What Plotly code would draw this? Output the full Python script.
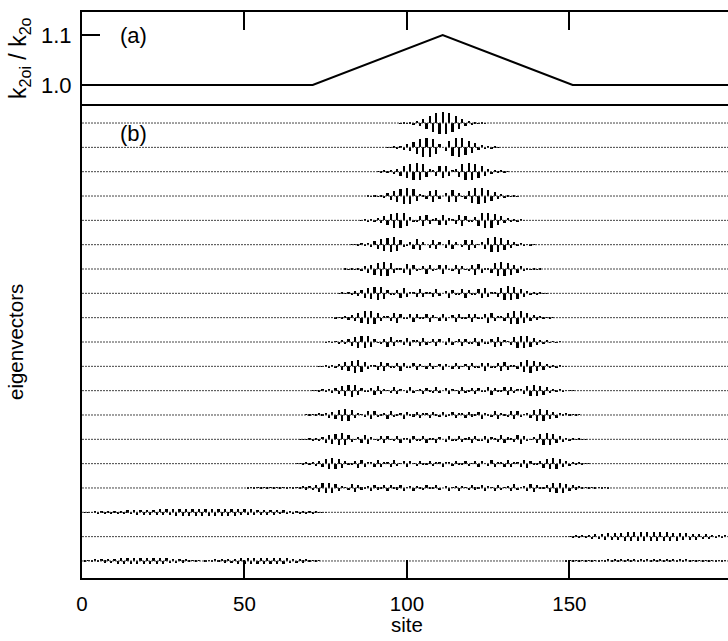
import plotly.graph_objects as go

# ---------------- panel (a): relative spring constant along the chain ----------------
k_site = [0, 71, 111, 151, 200]
k_ratio = [1.0, 1.0, 1.1, 1.0, 1.0]

# ---------------- panel (b): eigenvector components (bar heights, read in pixels) ----
ev01_start = 98
ev01 = [-0.3, 0.4, -0.7, 1.0, -1.6, 2.2, -3.2, 4.3, -5.7, 7.1, -8.6, 9.9, -10.7, 10.9,
        -10.7, 9.9, -8.6, 7.1, -5.7, 4.3, -3.2, 2.2, -1.6, 1.0, -0.7, 0.4, -0.3]

ev02_start = 94
ev02 = [0.3, -0.4, 0.7, -1.0, 1.5, -2.2, 3.1, -4.1, 5.4, -6.8, 8.1, -9.2, 9.8, -9.8, 8.6, -6.5, 3.5,
        0,
        -3.5, 6.5, -8.6, 9.8, -9.8, 9.2, -8.1, 6.8, -5.4, 4.1, -3.1, 2.2, -1.5, 1.0, -0.7, 0.4, -0.3]

ev03_start = 91
ev03 = [0.3, -0.5, 0.7, -1.1, 1.5, -2.2, 3.0, -4.1, 5.2, -6.4, 7.6, -8.4, 8.9, -8.5, 7.2, -5.0, 2.2,
        0.9, -3.9, 6.0, -6.7, 6.0, -3.9, 0.9, 2.2, -5.0, 7.2, -8.5, 8.9, -8.4, 7.6, -6.4, 5.2, -4.1,
        3.0, -2.2, 1.5, -1.1, 0.7, -0.5, 0.3]

ev04_start = 88
ev04 = [0.3, -0.4, 0.6, -0.9, 1.4, -2.0, 2.7, -3.7, 4.8, -5.9, 7.1, -7.9, 8.4, -8.2, 7.0, -5.1,
        2.5, 0.5, -3.3, 5.5, -6.3, 5.6, -3.2,
        0,
        3.2, -5.6, 6.3, -5.5, 3.3, -0.5, -2.5, 5.1, -7.0, 8.2, -8.4, 7.9, -7.1, 5.9, -4.8, 3.7,
        -2.7, 2.0, -1.4, 0.9, -0.6, 0.4, -0.3]

ev05_start = 86
ev05 = [-0.3, 0.5, -0.7, 1.1, -1.6, 2.3, -3.1, 4.1, -5.1, 6.3, -7.2, 7.8, -7.9, 7.1, -5.6, 3.4,
        -0.7, -2.1, 4.5, -5.9, 5.8, -4.1, 1.3, 1.9, -4.5,
        5.4, -4.5, 1.9, 1.3, -4.1, 5.8, -5.9, 4.5, -2.1, -0.7, 3.4, -5.6, 7.1, -7.9, 7.8, -7.2,
        6.3, -5.1, 4.1, -3.1, 2.3, -1.6, 1.1, -0.7, 0.5, -0.3]

ev06_start = 83
ev06 = [-0.2, 0.4, -0.6, 0.8, -1.2, 1.8, -2.4, 3.3, -4.2, 5.2, -6.2, 7.0, -7.4, 7.2, -6.2, 4.5,
        -2.2, -0.4, 3.0, -4.8, 5.6, -4.9, 2.8, 0.0, -2.9, 4.7, -4.8, 3.0,
        0,
        -3.0, 4.8, -4.7, 2.9, 0.0, -2.8, 4.9, -5.6, 4.8, -3.0, 0.4, 2.2, -4.5, 6.2, -7.2, 7.4,
        -7.0, 6.2, -5.2, 4.2, -3.3, 2.4, -1.8, 1.2, -0.8, 0.6, -0.4, 0.2]

ev07_start = 81
ev07 = [0.3, -0.4, 0.6, -0.9, 1.4, -1.9, 2.7, -3.5, 4.5, -5.5, 6.5, -7.1, 7.4, -7.0, 5.7, -3.9,
        1.4, 1.2, -3.6, 5.2, -5.5, 4.4, -2.1, -0.9, 3.5, -4.9, 4.4, -2.2, -0.9, 3.6,
        -4.6, 3.6, -0.9, -2.2, 4.4, -4.9, 3.5, -0.9, -2.1, 4.4, -5.5, 5.2, -3.6, 1.2, 1.4, -3.9,
        5.7, -7.0, 7.4, -7.1, 6.5, -5.5, 4.5, -3.5, 2.7, -1.9, 1.4, -0.9, 0.6, -0.4, 0.3]

ev08_start = 79
ev08 = [-0.3, 0.4, -0.6, 0.9, -1.3, 1.9, -2.6, 3.4, -4.4, 5.3, -6.1, 6.7, -6.9, 6.4, -5.2, 3.3,
        -1.0, -1.5, 3.6, -5.0, 5.1, -3.9, 1.5, 1.2, -3.6, 4.6, -3.9, 1.7, 1.3, -3.6, 4.3, -2.8,
        0,
        2.8, -4.3, 3.6, -1.3, -1.7, 3.9, -4.6, 3.6, -1.2, -1.5, 3.9, -5.1, 5.0, -3.6, 1.5, 1.0,
        -3.3, 5.2, -6.4, 6.9, -6.7, 6.1, -5.3, 4.4, -3.4, 2.6, -1.9, 1.3, -0.9, 0.6, -0.4, 0.3]

ev09_start = 77
ev09 = [0.3, -0.4, 0.6, -0.9, 1.4, -1.9, 2.6, -3.5, 4.4, -5.4, 6.2, -6.8, 6.9, -6.3, 5.0, -3.2,
        0.8, 1.7, -3.8, 5.0, -5.1, 3.7, -1.3, -1.4, 3.7, -4.7, 3.8, -1.5, -1.5, 3.8, -4.3, 2.7,
        0.2, -3.0,
        4.1, -3.0, 0.2, 2.7, -4.3, 3.8, -1.5, -1.5, 3.8, -4.7, 3.7, -1.4, -1.3, 3.7, -5.1, 5.0,
        -3.8, 1.7, 0.8, -3.2, 5.0, -6.3, 6.9, -6.8, 6.2, -5.4, 4.4, -3.5, 2.6, -1.9, 1.4, -0.9,
        0.6, -0.4, 0.3]

ev10_start = 75
ev10 = [-0.2, 0.4, -0.6, 0.9, -1.3, 1.8, -2.4, 3.2, -4.1, 5.0, -5.7, 6.3, -6.4, 5.9, -4.7, 3.0,
        -0.8, -1.5, 3.5, -4.7, 4.7, -3.5, 1.3, 1.3, -3.4, 4.3, -3.6, 1.4, 1.3, -3.5, 4.0, -2.6,
        -0.2, 2.8, -3.8, 2.7,
        0,
        -2.7, 3.8, -2.8, 0.2, 2.6, -4.0, 3.5, -1.3, -1.4, 3.6, -4.3, 3.4, -1.3, -1.3, 3.5, -4.7,
        4.7, -3.5, 1.5, 0.8, -3.0, 4.7, -5.9, 6.4, -6.3, 5.7, -5.0, 4.1, -3.2, 2.4, -1.8, 1.3,
        -0.9, 0.6, -0.4, 0.2]

ev11_start = 73
ev11 = [0.2, -0.4, 0.6, -0.8, 1.2, -1.7, 2.4, -3.2, 4.0, -4.9, 5.7, -6.2, 6.4, -5.9, 4.8, -3.1,
        1.0, 1.3, -3.3, 4.6, -4.7, 3.6, -1.5, -1.1, 3.3, -4.3, 3.7, -1.6, -1.1, 3.3, -4.0, 2.7,
        -0.1, -2.6, 3.8, -2.8, 0.2, 2.5,
        -3.6, 2.5, 0.2, -2.8, 3.8, -2.6, -0.1, 2.7, -4.0, 3.3, -1.1, -1.6, 3.7, -4.3, 3.3, -1.1,
        -1.5, 3.6, -4.7, 4.6, -3.3, 1.3, 1.0, -3.1, 4.8, -5.9, 6.4, -6.2, 5.7, -4.9, 4.0, -3.2,
        2.4, -1.7, 1.2, -0.8, 0.6, -0.4, 0.2]

ev12_start = 71
ev12 = [-0.2, 0.3, -0.5, 0.7, -1.1, 1.5, -2.1, 2.8, -3.6, 4.4, -5.1, 5.7, -5.9, 5.6, -4.6, 3.1,
        -1.2, -0.9, 2.8, -4.1, 4.4, -3.6, 1.7, 0.6, -2.7, 3.9, -3.6, 1.8, 0.6, -2.8, 3.7, -2.8,
        0.5, 2.0, -3.4, 2.9, -0.6, -2.0, 3.3, -2.4,
        0,
        2.4, -3.3, 2.0, 0.6, -2.9, 3.4, -2.0, -0.5, 2.8, -3.7, 2.8, -0.6, -1.8, 3.6, -3.9, 2.7,
        -0.6, -1.7, 3.6, -4.4, 4.1, -2.8, 0.9, 1.2, -3.1, 4.6, -5.6, 5.9, -5.7, 5.1, -4.4, 3.6,
        -2.8, 2.1, -1.5, 1.1, -0.7, 0.5, -0.3, 0.2]

ev13_start = 69
ev13 = [0.2, -0.3, 0.5, -0.7, 1.0, -1.4, 2.0, -2.7, 3.4, -4.2, 5.0, -5.6, 5.9, -5.7, 4.9, -3.5,
        1.6, 0.5, -2.5, 3.9, -4.5, 3.8, -2.2, -0.1, 2.4, -3.8, 3.8, -2.3, -0.1, 2.4, -3.7, 3.1,
        -1.0, -1.6, 3.3, -3.2, 1.2, 1.5, -3.2, 2.8, -0.6, -2.0,
        3.2, -2.0, -0.6, 2.8, -3.2, 1.5, 1.2, -3.2, 3.3, -1.6, -1.0, 3.1, -3.7, 2.4, -0.1, -2.3,
        3.8, -3.8, 2.4, -0.1, -2.2, 3.8, -4.5, 3.9, -2.5, 0.5, 1.6, -3.5, 4.9, -5.7, 5.9, -5.6,
        5.0, -4.2, 3.4, -2.7, 2.0, -1.4, 1.0, -0.7, 0.5, -0.3, 0.2]

ev14_start = 67
ev14 = [-0.2, 0.3, -0.4, 0.6, -0.9, 1.3, -1.8, 2.5, -3.2, 4.0, -4.9, 5.5, -5.9, 5.9, -5.2, 3.9,
        -2.2, 0.1, 2.0, -3.7, 4.5, -4.2, 2.7, -0.5, -1.9, 3.7, -4.0, 2.9, -0.6, -2.0, 3.6, -3.6,
        1.7, 1.0, -3.2, 3.5, -1.9, -0.9, 3.1, -3.3, 1.3, 1.5, -3.3, 2.7,
        0,
        -2.7, 3.3, -1.5, -1.3, 3.3, -3.1, 0.9, 1.9, -3.5, 3.2, -1.0, -1.7, 3.6, -3.6, 2.0, 0.6,
        -2.9, 4.0, -3.7, 1.9, 0.5, -2.7, 4.2, -4.5, 3.7, -2.0, -0.1, 2.2, -3.9, 5.2, -5.9, 5.9,
        -5.5, 4.9, -4.0, 3.2, -2.5, 1.8, -1.3, 0.9, -0.6, 0.4, -0.3, 0.2]

ev15_start = 66
ev15 = [-0.2, 0.3, -0.5, 0.7, -1.1, 1.5, -2.1, 2.8, -3.5, 4.2, -4.9, 5.3, -5.4, 5.0, -4.0, 2.5,
        -0.6, -1.3, 3.0, -4.0, 4.0, -2.9, 1.0, 1.2, -3.0, 3.7, -3.0, 1.1, 1.2, -3.0, 3.4, -2.1,
        -0.2, 2.4, -3.3, 2.2, 0.1, -2.4, 3.1, -1.8, -0.7, 2.7, -2.7, 0.8, 1.8,
        -2.9, 1.8, 0.8, -2.7, 2.7, -0.7, -1.8, 3.1, -2.4, 0.1, 2.2, -3.3, 2.4, -0.2, -2.1, 3.4,
        -3.0, 1.2, 1.1, -3.0, 3.7, -3.0, 1.2, 1.0, -2.9, 4.0, -4.0, 3.0, -1.3, -0.6, 2.5, -4.0,
        5.0, -5.4, 5.3, -4.9, 4.2, -3.5, 2.8, -2.1, 1.5, -1.1, 0.7, -0.5, 0.3, -0.2]

ev16_start = 51
ev16 = [-0.1, 0.1, -0.1, 0.15, -0.15, 0.2, -0.2, 0.25, -0.3, 0.35, -0.4, 0.45, -0.55, 0.65, -0.8,
        0.95, -1.15, 1.4, -1.7, 2.0,
        -2.5, 3.3, -4.0, 4.7, -5.2, 5.4, -5.2, 4.3, -3.0, 1.2, 0.7, -2.5, 3.7, -4.1, 3.3, -1.7,
        -0.4, 2.4, -3.5, 3.3, -1.8, -0.4, 2.5, -3.4, 2.6, -0.6, -1.7, 3.1, -2.7, 0.7, 1.7, -3.0,
        2.3, -0.2, -2.1, 2.9, -1.5, -0.9, 2.7, -2.3,
        0,
        2.3, -2.7, 0.9, 1.5, -2.9, 2.1, 0.2, -2.3, 3.0, -1.7, -0.7, 2.7, -3.1, 1.7, 0.6, -2.6,
        3.4, -2.5, 0.4, 1.8, -3.3, 3.5, -2.4, 0.4, 1.7, -3.3, 4.1, -3.7, 2.5, -0.7, -1.2, 3.0,
        -4.3, 5.2, -5.4, 5.2, -4.7, 4.0, -3.3, 2.5, -1.9, 1.4, -1.1, 0.8, -0.6, 0.45, -0.35, 0.3,
        -0.2, 0.15, -0.1]

ev17_start = 1
ev17 = [-0.1, 0.3, -0.4, 0.6, -0.7, 0.9, -1.0, 1.1, -1.3, 1.4, -1.5, 1.7, -1.8, 1.9, -2.0, 2.2,
        -2.3, 2.4, -2.5, 2.6, -2.7, 2.8, -2.9, 2.9, -3.0, 3.1, -3.1, 3.2, -3.3, 3.3, -3.4, 3.4,
        -3.4, 3.5, -3.5, 3.5, -3.5, 3.5, -3.5, 3.5, -3.5, 3.5, -3.4, 3.4, -3.4, 3.3, -3.3, 3.2,
        -3.1, 3.1, -3.0, 2.9, -2.9, 2.8, -2.7, 2.6, -2.5, 2.4, -2.3, 2.2, -2.0, 1.9, -1.8, 1.7,
        -1.5, 1.4, -1.3, 1.1, -1.0, 0.9, -0.7, 0.6, -0.4, 0.3, -0.1]

ev18_start = 149
ev18 = [-0.3, 0.5, -0.8, 1.1, -1.3, 1.6, -1.8, 2.1, -2.3, 2.5, -2.7, 2.9, -3.1, 3.3, -3.5, 3.7,
        -3.8, 3.9, -4.1, 4.2, -4.3, 4.3, -4.4, 4.5, -4.5, 4.5, -4.5, 4.5, -4.5, 4.4, -4.3, 4.3,
        -4.2, 4.1, -3.9, 3.8, -3.7, 3.5, -3.3, 3.1, -2.9, 2.7, -2.5, 2.3, -2.1, 1.8, -1.6, 1.3,
        -1.1, 0.8, -0.5, 0.3]

ev19a_start = 1
ev19a = [-0.3, 0.5, -0.8, 1.1, -1.3, 1.6, -1.8, 2.0, -2.2, 2.4, -2.6, 2.7, -2.9, 3.0, -3.1, 3.1,
         -3.2, 3.2, -3.2, 3.2, -3.1, 3.1, -3.0, 2.9, -2.7, 2.6, -2.4, 2.2, -2.0, 1.8, -1.6, 1.3,
         -1.1, 0.8, -0.5, 0.3,
         0,
         -0.3, 0.5, -0.8, 1.1, -1.3, 1.6, -1.8, 2.0, -2.2, 2.4, -2.6, 2.7, -2.9, 3.0, -3.1, 3.1,
         -3.2, 3.2, -3.2, 3.2, -3.1, 3.1, -3.0, 2.9, -2.7, 2.6, -2.4, 2.2, -2.0, 1.8, -1.6, 1.3,
         -1.1, 0.8, -0.5, 0.3]
ev19b_start = 149
ev19b = [-0.1, 0.2, -0.2, 0.3, -0.4, 0.5, -0.5, 0.6, -0.7, 0.7, -0.8, 0.9, -0.9, 1.0, -1.0, 1.1,
         -1.1, 1.1, -1.2, 1.2, -1.2, 1.3, -1.3, 1.3, -1.3, 1.3, -1.3, 1.3, -1.3, 1.3, -1.3, 1.2,
         -1.2, 1.2, -1.1, 1.1, -1.1, 1.0, -1.0, 0.9, -0.9, 0.8, -0.7, 0.7, -0.6, 0.5, -0.5, 0.4,
         -0.3, 0.2, -0.2, 0.1]

eigvec_rows = [
    [(ev01_start, ev01)], [(ev02_start, ev02)], [(ev03_start, ev03)], [(ev04_start, ev04)],
    [(ev05_start, ev05)], [(ev06_start, ev06)], [(ev07_start, ev07)], [(ev08_start, ev08)],
    [(ev09_start, ev09)], [(ev10_start, ev10)], [(ev11_start, ev11)], [(ev12_start, ev12)],
    [(ev13_start, ev13)], [(ev14_start, ev14)], [(ev15_start, ev15)], [(ev16_start, ev16)],
    [(ev17_start, ev17)], [(ev18_start, ev18)], [(ev19a_start, ev19a), (ev19b_start, ev19b)],
]

x_ticks = [0, 50, 100, 150, 200]
ya_ticks = [1.0, 1.1]
ya_ticktext = ["1.0", "1.1"]

# ---------------- styling constants ----------------
PX_PER_ROW = 24.33          # vertical spacing of the eigenvector rows, in pixels
X_MAX = 198.8               # right edge of the window cuts the frame just short of 200
FONT = "Arial, Liberation Sans, Helvetica, sans-serif"
N_ROWS = len(eigvec_rows)

fig = go.Figure()

# panel (a)
fig.add_trace(go.Scatter(x=k_site, y=k_ratio, mode="lines",
                         line=dict(color="black", width=2),
                         xaxis="x2", yaxis="y2", hoverinfo="skip"))

# faint baselines (the tiny components along every row)
bx, by = [], []
for r in range(1, N_ROWS + 1):
    bx += [0, 200, None]
    by += [-r, -r, None]
fig.add_trace(go.Scatter(x=bx, y=by, mode="lines",
                         line=dict(color="#444444", width=1, dash="2px,1px"),
                         hoverinfo="skip"))

# panel (b): stick bars for each eigenvector
for r, segs in enumerate(eigvec_rows, start=1):
    xs, ys = [], []
    for start, vals in segs:
        xs += list(range(start, start + len(vals)))
        ys += [v / PX_PER_ROW for v in vals]
    fig.add_trace(go.Bar(x=xs, y=ys, base=-r, width=0.66,
                         marker=dict(color="black", line=dict(width=0)),
                         hoverinfo="skip"))

split = 472 / 566.0
axis_common = dict(showline=True, linecolor="black", linewidth=2, showgrid=False,
                   zeroline=False, tickcolor="black")

fig.update_layout(
    width=728, height=641,
    margin=dict(l=82, r=0, t=12, b=63),
    paper_bgcolor="white", plot_bgcolor="white",
    showlegend=False, barmode="overlay", bargap=0,
    font=dict(family=FONT, size=20.5, color="black"),
    xaxis=dict(domain=[0, 1], range=[0, X_MAX], anchor="y", mirror=True,
               ticks="inside", ticklen=18, tickwidth=2, tickvals=x_ticks,
               ticklabelstandoff=6, tickfont=dict(size=20.5), **axis_common),
    yaxis=dict(domain=[0, split], range=[-(N_ROWS + 0.7), -0.3], showticklabels=False,
               ticks="", **axis_common),
    xaxis2=dict(domain=[0, 1], range=[0, X_MAX], anchor="y2", side="top", mirror=False,
                matches="x", ticks="inside", ticklen=18, tickwidth=2, tickvals=x_ticks,
                showticklabels=False, **axis_common),
    yaxis2=dict(domain=[split, 1], range=[0.958, 1.146], anchor="x2",
                ticks="inside", ticklen=18, tickwidth=2, tickvals=ya_ticks,
                ticktext=ya_ticktext, ticklabelstandoff=4, tickfont=dict(size=22),
                **axis_common),
    annotations=[
        dict(text="(a)", x=16, y=1.1, xref="x2", yref="y2", showarrow=False,
             xanchor="center", yanchor="middle", font=dict(size=22)),
        dict(text="(b)", x=16, y=-1.41, xref="x", yref="y", showarrow=False,
             xanchor="center", yanchor="middle", font=dict(size=22)),
        dict(text="site", x=100, y=-46 / 566.0, xref="x", yref="paper", showarrow=False,
             xanchor="center", yanchor="middle", font=dict(size=20.5)),
        dict(text="eigenvectors", x=0, y=split / 2, xref="paper", yref="paper",
             xshift=-66, textangle=-90, showarrow=False, xanchor="center", yanchor="middle",
             font=dict(size=20.5)),
        dict(text="k<sub>2oi</sub> / k<sub>2o</sub>", x=0, y=(578 - 58) / 566.0,
             xref="paper", yref="paper", xshift=-63, textangle=-90, showarrow=False,
             xanchor="center", yanchor="middle", font=dict(size=23)),
    ],
)

fig.write_html("out.html")
